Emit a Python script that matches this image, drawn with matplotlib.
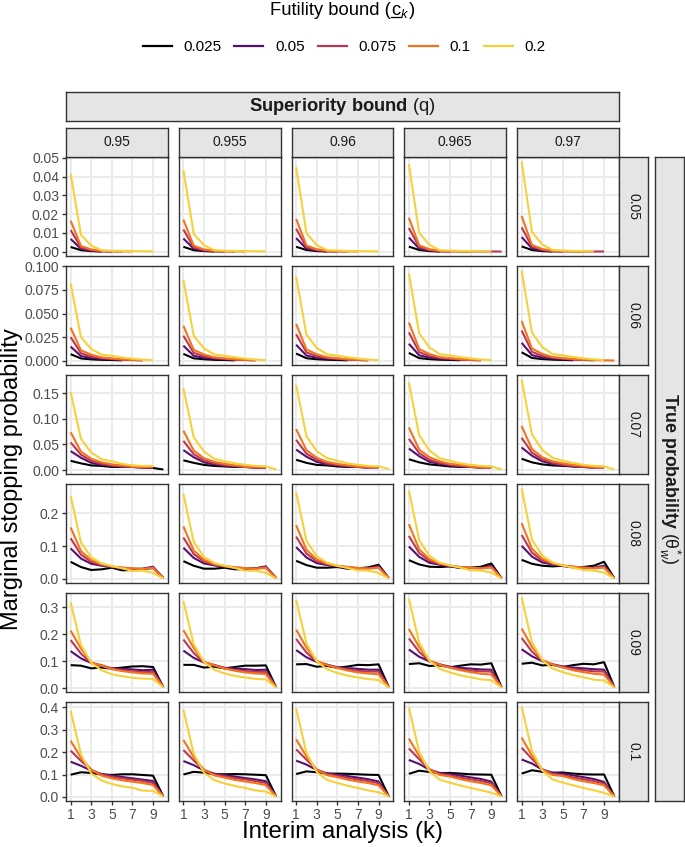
import numpy as np
import matplotlib
matplotlib.use("Agg")
import matplotlib.pyplot as plt
from matplotlib.lines import Line2D

N = np.nan

k_values = [1, 2, 3, 4, 5, 6, 7, 8, 9, 10]
c_labels = ["0.025", "0.05", "0.075", "0.1", "0.2"]
q_labels = ["0.95", "0.955", "0.96", "0.965", "0.97"]
theta_labels = ["0.05", "0.06", "0.07", "0.08", "0.09", "0.1"]
x_ticks = [1, 3, 5, 7, 9]

# each row (theta): 5 panels (q = 0.95 ... 0.97), each panel: 5 series (c = 0.025 ... 0.2)
theta_005 = [
    [[0.0025, 0.0008, 0.0003, 0.0001, N, N, N, N, N, N],
     [0.0068, 0.0015, 0.0005, 0.0002, 0.0001, N, N, N, N, N],
     [0.0115, 0.0022, 0.0008, 0.0003, 0.0002, 0.0001, N, N, N, N],
     [0.0165, 0.0030, 0.0012, 0.0005, 0.0003, 0.0002, 0.0001, N, N, N],
     [0.0415, 0.0090, 0.0032, 0.0007, 0.0005, 0.0004, 0.0003, 0.0002, 0.0002, N]],
    [[0.0026, 0.0008, 0.0003, 0.0001, N, N, N, N, N, N],
     [0.0070, 0.0016, 0.0005, 0.0002, 0.0001, N, N, N, N, N],
     [0.0118, 0.0023, 0.0008, 0.0003, 0.0002, 0.0001, N, N, N, N],
     [0.0170, 0.0032, 0.0012, 0.0005, 0.0003, 0.0002, 0.0001, N, N, N],
     [0.0435, 0.0095, 0.0034, 0.0008, 0.0005, 0.0004, 0.0003, 0.0002, 0.0002, N]],
    [[0.0026, 0.0009, 0.0003, 0.0001, N, N, N, N, N, N],
     [0.0072, 0.0016, 0.0006, 0.0002, 0.0001, N, N, N, N, N],
     [0.0122, 0.0024, 0.0009, 0.0003, 0.0002, 0.0001, N, N, N, N],
     [0.0175, 0.0033, 0.0013, 0.0005, 0.0003, 0.0002, 0.0001, N, N, N],
     [0.0450, 0.0098, 0.0035, 0.0008, 0.0006, 0.0004, 0.0003, 0.0002, 0.0002, N]],
    [[0.0027, 0.0009, 0.0003, 0.0001, N, N, N, N, N, N],
     [0.0075, 0.0017, 0.0006, 0.0002, 0.0001, N, N, N, N, N],
     [0.0126, 0.0025, 0.0009, 0.0003, 0.0002, 0.0001, 0.0001, 0.0001, 0.0001, 0.0001],
     [0.0180, 0.0034, 0.0013, 0.0005, 0.0003, 0.0002, 0.0001, N, N, N],
     [0.0465, 0.0100, 0.0036, 0.0008, 0.0006, 0.0004, 0.0003, 0.0002, 0.0002, N]],
    [[0.0028, 0.0009, 0.0003, 0.0001, N, N, N, N, N, N],
     [0.0078, 0.0018, 0.0006, 0.0002, 0.0001, N, N, N, N, N],
     [0.0130, 0.0026, 0.0010, 0.0003, 0.0002, 0.0001, 0.0001, 0.0001, 0.0001, N],
     [0.0190, 0.0036, 0.0014, 0.0005, 0.0003, 0.0002, 0.0001, N, N, N],
     [0.0480, 0.0105, 0.0038, 0.0009, 0.0006, 0.0004, 0.0003, 0.0002, N, N]],
]

theta_006 = [
    [[0.0070, 0.0025, 0.0015, 0.0010, 0.0008, 0.0005, N, N, N, N],
     [0.0150, 0.0050, 0.0030, 0.0020, 0.0015, 0.0010, 0.0008, 0.0005, N, N],
     [0.0250, 0.0080, 0.0045, 0.0030, 0.0020, 0.0012, 0.0008, N, N, N],
     [0.0350, 0.0110, 0.0065, 0.0035, 0.0025, 0.0015, 0.0010, 0.0006, N, N],
     [0.0820, 0.0250, 0.0125, 0.0064, 0.0053, 0.0035, 0.0022, 0.0012, 0.0006, N]],
    [[0.0073, 0.0026, 0.0016, 0.0010, 0.0008, 0.0005, N, N, N, N],
     [0.0160, 0.0053, 0.0031, 0.0021, 0.0015, 0.0010, 0.0008, 0.0005, N, N],
     [0.0265, 0.0084, 0.0047, 0.0031, 0.0021, 0.0013, 0.0008, N, N, N],
     [0.0370, 0.0115, 0.0067, 0.0036, 0.0026, 0.0016, 0.0010, 0.0006, N, N],
     [0.0855, 0.0265, 0.0130, 0.0066, 0.0054, 0.0036, 0.0023, 0.0013, 0.0006, N]],
    [[0.0077, 0.0027, 0.0016, 0.0011, 0.0008, 0.0005, N, N, N, N],
     [0.0170, 0.0055, 0.0032, 0.0022, 0.0016, 0.0011, 0.0008, 0.0005, N, N],
     [0.0280, 0.0088, 0.0049, 0.0032, 0.0022, 0.0013, 0.0009, N, N, N],
     [0.0390, 0.0120, 0.0069, 0.0037, 0.0027, 0.0016, 0.0011, 0.0006, N, N],
     [0.0890, 0.0278, 0.0135, 0.0068, 0.0055, 0.0037, 0.0024, 0.0013, 0.0007, N]],
    [[0.0083, 0.0028, 0.0017, 0.0011, 0.0009, 0.0006, N, N, N, N],
     [0.0180, 0.0058, 0.0033, 0.0023, 0.0016, 0.0011, 0.0008, 0.0005, N, N],
     [0.0300, 0.0092, 0.0050, 0.0033, 0.0022, 0.0014, 0.0009, N, N, N],
     [0.0405, 0.0125, 0.0071, 0.0038, 0.0028, 0.0017, 0.0011, 0.0007, N, N],
     [0.0925, 0.0290, 0.0140, 0.0070, 0.0057, 0.0038, 0.0025, 0.0014, 0.0007, N]],
    [[0.0090, 0.0030, 0.0018, 0.0012, 0.0009, 0.0006, N, N, N, N],
     [0.0190, 0.0060, 0.0034, 0.0024, 0.0017, 0.0012, 0.0009, 0.0005, N, N],
     [0.0320, 0.0095, 0.0052, 0.0034, 0.0023, 0.0014, 0.0009, N, N, N],
     [0.0420, 0.0130, 0.0073, 0.0040, 0.0029, 0.0018, 0.0012, 0.0008, 0.0005, 0.0003],
     [0.0955, 0.0300, 0.0145, 0.0072, 0.0058, 0.0039, 0.0026, 0.0015, 0.0008, N]],
]

theta_007 = [
    [[0.018, 0.013, 0.009, 0.008, 0.006, 0.006, 0.006, 0.005, 0.004, 0.001],
     [0.037, 0.024, 0.014, 0.010, 0.008, 0.007, 0.006, 0.005, 0.005, N],
     [0.054, 0.030, 0.018, 0.012, 0.009, 0.007, 0.006, 0.005, 0.005, N],
     [0.074, 0.036, 0.022, 0.015, 0.011, 0.009, 0.007, 0.006, 0.006, N],
     [0.153, 0.061, 0.034, 0.021, 0.017, 0.012, 0.009, 0.008, 0.008, N]],
    [[0.019, 0.014, 0.010, 0.008, 0.007, 0.006, 0.006, 0.005, 0.005, N],
     [0.039, 0.025, 0.015, 0.011, 0.008, 0.007, 0.006, 0.005, 0.005, N],
     [0.057, 0.031, 0.019, 0.013, 0.010, 0.008, 0.006, 0.005, 0.005, N],
     [0.077, 0.038, 0.023, 0.016, 0.012, 0.009, 0.007, 0.006, 0.006, N],
     [0.160, 0.064, 0.036, 0.022, 0.017, 0.013, 0.010, 0.008, 0.007, 0.001]],
    [[0.020, 0.014, 0.010, 0.009, 0.007, 0.006, 0.006, 0.005, N, N],
     [0.040, 0.026, 0.016, 0.011, 0.009, 0.007, 0.006, 0.005, 0.005, N],
     [0.059, 0.032, 0.020, 0.013, 0.010, 0.008, 0.006, 0.005, 0.005, N],
     [0.080, 0.039, 0.024, 0.016, 0.012, 0.009, 0.007, 0.006, 0.006, N],
     [0.166, 0.066, 0.037, 0.023, 0.018, 0.013, 0.010, 0.008, 0.007, 0.002]],
    [[0.021, 0.015, 0.011, 0.009, 0.007, 0.006, 0.006, 0.005, N, N],
     [0.042, 0.027, 0.016, 0.012, 0.009, 0.007, 0.006, 0.005, 0.005, N],
     [0.061, 0.033, 0.020, 0.014, 0.010, 0.008, 0.006, 0.005, 0.005, N],
     [0.083, 0.040, 0.025, 0.017, 0.012, 0.010, 0.007, 0.006, 0.006, N],
     [0.171, 0.068, 0.038, 0.023, 0.018, 0.013, 0.010, 0.008, 0.007, 0.001]],
    [[0.022, 0.015, 0.011, 0.009, 0.008, 0.007, 0.006, 0.005, N, N],
     [0.044, 0.028, 0.017, 0.012, 0.009, 0.007, 0.006, 0.005, 0.005, N],
     [0.063, 0.034, 0.021, 0.014, 0.010, 0.008, 0.006, 0.005, 0.005, N],
     [0.086, 0.041, 0.025, 0.017, 0.013, 0.010, 0.008, 0.006, 0.006, N],
     [0.177, 0.070, 0.039, 0.024, 0.018, 0.014, 0.010, 0.008, 0.007, 0.001]],
]

theta_008 = [
    [[0.052, 0.036, 0.027, 0.029, 0.034, 0.026, 0.027, 0.030, 0.033, 0.002],
     [0.093, 0.062, 0.046, 0.040, 0.036, 0.032, 0.030, 0.031, 0.037, 0.002],
     [0.124, 0.074, 0.052, 0.042, 0.037, 0.034, 0.031, 0.030, 0.035, 0.002],
     [0.157, 0.085, 0.057, 0.045, 0.038, 0.034, 0.032, 0.030, 0.033, 0.002],
     [0.254, 0.111, 0.066, 0.047, 0.039, 0.032, 0.024, 0.025, 0.018, 0.001]],
    [[0.054, 0.040, 0.031, 0.031, 0.034, 0.029, 0.030, 0.032, 0.036, 0.002],
     [0.095, 0.064, 0.047, 0.041, 0.037, 0.033, 0.031, 0.032, 0.038, 0.002],
     [0.126, 0.076, 0.053, 0.043, 0.038, 0.035, 0.032, 0.031, 0.036, 0.002],
     [0.160, 0.087, 0.058, 0.046, 0.039, 0.035, 0.033, 0.031, 0.033, 0.002],
     [0.260, 0.113, 0.067, 0.048, 0.040, 0.033, 0.025, 0.025, 0.018, 0.001]],
    [[0.055, 0.042, 0.034, 0.034, 0.036, 0.031, 0.032, 0.035, 0.043, 0.002],
     [0.097, 0.065, 0.048, 0.042, 0.038, 0.034, 0.032, 0.033, 0.039, 0.002],
     [0.129, 0.077, 0.054, 0.044, 0.039, 0.036, 0.033, 0.032, 0.036, 0.002],
     [0.164, 0.089, 0.059, 0.047, 0.040, 0.036, 0.033, 0.031, 0.034, 0.002],
     [0.265, 0.116, 0.069, 0.049, 0.040, 0.033, 0.026, 0.025, 0.018, 0.001]],
    [[0.057, 0.044, 0.037, 0.036, 0.038, 0.033, 0.034, 0.037, 0.047, 0.002],
     [0.099, 0.067, 0.049, 0.043, 0.038, 0.035, 0.033, 0.033, 0.040, 0.002],
     [0.131, 0.079, 0.055, 0.045, 0.040, 0.036, 0.033, 0.032, 0.037, 0.002],
     [0.167, 0.090, 0.060, 0.047, 0.040, 0.036, 0.034, 0.032, 0.034, 0.002],
     [0.270, 0.118, 0.070, 0.049, 0.041, 0.034, 0.026, 0.025, 0.019, 0.001]],
    [[0.058, 0.046, 0.040, 0.038, 0.040, 0.035, 0.036, 0.040, 0.052, 0.002],
     [0.101, 0.068, 0.050, 0.044, 0.039, 0.036, 0.034, 0.034, 0.040, 0.002],
     [0.134, 0.080, 0.056, 0.046, 0.040, 0.037, 0.034, 0.033, 0.037, 0.002],
     [0.170, 0.092, 0.061, 0.048, 0.041, 0.037, 0.034, 0.032, 0.034, 0.002],
     [0.276, 0.120, 0.071, 0.050, 0.041, 0.034, 0.027, 0.025, 0.019, 0.001]],
]

theta_009 = [
    [[0.085, 0.083, 0.073, 0.076, 0.072, 0.076, 0.080, 0.081, 0.078, 0.003],
     [0.137, 0.110, 0.093, 0.082, 0.073, 0.071, 0.069, 0.066, 0.068, 0.003],
     [0.178, 0.128, 0.093, 0.085, 0.072, 0.066, 0.062, 0.059, 0.060, 0.003],
     [0.213, 0.147, 0.095, 0.083, 0.070, 0.063, 0.058, 0.054, 0.053, 0.003],
     [0.318, 0.160, 0.093, 0.066, 0.051, 0.044, 0.038, 0.035, 0.034, 0.002]],
    [[0.086, 0.086, 0.076, 0.079, 0.073, 0.078, 0.083, 0.083, 0.084, 0.003],
     [0.139, 0.112, 0.095, 0.084, 0.075, 0.072, 0.070, 0.067, 0.068, 0.003],
     [0.180, 0.130, 0.095, 0.086, 0.074, 0.067, 0.063, 0.060, 0.060, 0.003],
     [0.215, 0.149, 0.097, 0.084, 0.072, 0.064, 0.058, 0.054, 0.052, 0.003],
     [0.323, 0.163, 0.096, 0.068, 0.054, 0.045, 0.039, 0.034, 0.032, 0.002]],
    [[0.088, 0.089, 0.079, 0.082, 0.075, 0.080, 0.086, 0.085, 0.088, 0.003],
     [0.141, 0.114, 0.097, 0.086, 0.077, 0.074, 0.071, 0.068, 0.068, 0.003],
     [0.182, 0.132, 0.098, 0.087, 0.076, 0.069, 0.064, 0.061, 0.061, 0.003],
     [0.217, 0.150, 0.100, 0.085, 0.074, 0.065, 0.058, 0.054, 0.051, 0.003],
     [0.327, 0.166, 0.099, 0.070, 0.056, 0.046, 0.039, 0.033, 0.030, 0.002]],
    [[0.089, 0.092, 0.082, 0.084, 0.077, 0.083, 0.088, 0.087, 0.092, 0.003],
     [0.143, 0.116, 0.099, 0.087, 0.079, 0.075, 0.072, 0.069, 0.068, 0.003],
     [0.184, 0.134, 0.100, 0.088, 0.077, 0.070, 0.065, 0.062, 0.061, 0.003],
     [0.219, 0.152, 0.102, 0.086, 0.075, 0.066, 0.059, 0.053, 0.050, 0.003],
     [0.332, 0.168, 0.102, 0.071, 0.058, 0.047, 0.040, 0.032, 0.029, 0.002]],
    [[0.090, 0.094, 0.084, 0.086, 0.078, 0.085, 0.090, 0.088, 0.096, 0.003],
     [0.144, 0.118, 0.100, 0.088, 0.080, 0.076, 0.073, 0.070, 0.068, 0.003],
     [0.186, 0.135, 0.102, 0.088, 0.078, 0.071, 0.066, 0.062, 0.061, 0.003],
     [0.221, 0.153, 0.104, 0.087, 0.076, 0.066, 0.059, 0.053, 0.050, 0.003],
     [0.336, 0.170, 0.104, 0.072, 0.059, 0.048, 0.040, 0.031, 0.028, 0.002]],
]

theta_010 = [
    [[0.099, 0.110, 0.107, 0.100, 0.098, 0.101, 0.101, 0.098, 0.095, 0.002],
     [0.157, 0.139, 0.117, 0.102, 0.095, 0.089, 0.083, 0.077, 0.071, 0.002],
     [0.206, 0.161, 0.121, 0.100, 0.090, 0.083, 0.077, 0.071, 0.062, 0.002],
     [0.250, 0.176, 0.121, 0.095, 0.083, 0.074, 0.068, 0.062, 0.053, 0.002],
     [0.384, 0.190, 0.105, 0.073, 0.058, 0.047, 0.041, 0.028, 0.027, 0.002]],
    [[0.100, 0.112, 0.108, 0.102, 0.101, 0.102, 0.101, 0.099, 0.097, 0.002],
     [0.160, 0.142, 0.118, 0.104, 0.097, 0.091, 0.084, 0.078, 0.070, 0.002],
     [0.209, 0.163, 0.121, 0.101, 0.092, 0.084, 0.078, 0.071, 0.062, 0.002],
     [0.254, 0.178, 0.121, 0.096, 0.086, 0.076, 0.069, 0.062, 0.053, 0.002],
     [0.389, 0.193, 0.108, 0.075, 0.060, 0.049, 0.040, 0.029, 0.024, 0.002]],
    [[0.102, 0.114, 0.110, 0.104, 0.104, 0.103, 0.101, 0.099, 0.098, 0.002],
     [0.162, 0.144, 0.120, 0.105, 0.099, 0.093, 0.086, 0.079, 0.069, 0.002],
     [0.212, 0.166, 0.122, 0.102, 0.094, 0.085, 0.078, 0.071, 0.061, 0.002],
     [0.257, 0.181, 0.122, 0.097, 0.088, 0.077, 0.069, 0.062, 0.052, 0.002],
     [0.394, 0.197, 0.111, 0.076, 0.062, 0.050, 0.040, 0.029, 0.021, 0.002]],
    [[0.103, 0.117, 0.111, 0.106, 0.107, 0.104, 0.101, 0.100, 0.099, 0.002],
     [0.165, 0.147, 0.121, 0.107, 0.102, 0.095, 0.087, 0.080, 0.068, 0.002],
     [0.216, 0.168, 0.123, 0.103, 0.096, 0.086, 0.079, 0.071, 0.061, 0.002],
     [0.260, 0.183, 0.122, 0.098, 0.091, 0.079, 0.070, 0.062, 0.052, 0.002],
     [0.398, 0.201, 0.114, 0.077, 0.063, 0.051, 0.040, 0.030, 0.019, 0.002]],
    [[0.104, 0.119, 0.112, 0.108, 0.109, 0.104, 0.101, 0.100, 0.100, 0.002],
     [0.167, 0.149, 0.122, 0.108, 0.104, 0.096, 0.088, 0.080, 0.067, 0.002],
     [0.219, 0.170, 0.123, 0.103, 0.097, 0.087, 0.079, 0.071, 0.060, 0.002],
     [0.264, 0.185, 0.122, 0.098, 0.093, 0.080, 0.070, 0.062, 0.052, 0.002],
     [0.403, 0.205, 0.118, 0.078, 0.064, 0.052, 0.040, 0.030, 0.018, 0.002]],
]

rows_data = [theta_005, theta_006, theta_007, theta_008, theta_009, theta_010]

y_ticks = [
    [0, 0.01, 0.02, 0.03, 0.04, 0.05],
    [0, 0.025, 0.05, 0.075, 0.1],
    [0, 0.05, 0.10, 0.15],
    [0, 0.1, 0.2],
    [0, 0.1, 0.2, 0.3],
    [0, 0.1, 0.2, 0.3, 0.4],
]
y_ticklabels = [
    ["0.00", "0.01", "0.02", "0.03", "0.04", "0.05"],
    ["0.000", "0.025", "0.050", "0.075", "0.100"],
    ["0.00", "0.05", "0.10", "0.15"],
    ["0.0", "0.1", "0.2"],
    ["0.0", "0.1", "0.2", "0.3"],
    ["0.0", "0.1", "0.2", "0.3", "0.4"],
]

colors = ["#000004", "#56106E", "#BB3754", "#F4731C", "#F6D13A"]

plt.rcParams.update({
    "font.family": ["Liberation Sans", "DejaVu Sans"],
    "mathtext.fontset": "custom",
    "mathtext.rm": "Liberation Sans",
    "mathtext.it": "Liberation Sans:italic",
    "mathtext.bf": "Liberation Sans:bold",
})

W, H = 685, 847
fig = plt.figure(figsize=(W / 100, H / 100), dpi=100)


def rect(x, y, w, h):
    return [x / W, 1 - (y + h) / H, w / W, h / H]


col_left = [66, 178.75, 291.5, 404.25, 517]
pw = 102
row_top = [157, 266, 375, 484, 593, 702]
ph = 99

strip_fc = "#E5E5E5"
edge = "#333333"
tick_col = "#4D4D4D"


def strip(x, y, w, h, text, rot=0, size=10, **kw):
    a = fig.add_axes(rect(x, y, w, h))
    a.set_facecolor(strip_fc)
    a.set_xticks([])
    a.set_yticks([])
    for s in a.spines.values():
        s.set_color(edge)
        s.set_linewidth(1.0)
    a.text(0.5, 0.5, text, rotation=rot, ha="center", va="center",
           fontsize=size, color="#1A1A1A", transform=a.transAxes, **kw)
    return a


for r, rowd in enumerate(rows_data):
    allv = np.array(rowd, dtype=float)
    lo, hi = np.nanmin(allv), np.nanmax(allv)
    pad = 0.05 * (hi - lo)
    for c, panel in enumerate(rowd):
        ax = fig.add_axes(rect(col_left[c], row_top[r], pw, ph))
        ax.set_facecolor("white")
        for i, series in enumerate(panel):
            ax.plot(k_values, series, color=colors[i], lw=1.5, solid_capstyle="butt", zorder=3)
        ax.set_xlim(0.55, 10.45)
        ax.set_ylim(lo - pad, hi + pad)
        ax.set_xticks(x_ticks)
        ax.set_yticks(y_ticks[r])
        ax.grid(True, color="#EBEBEB", lw=1.4, zorder=0)
        ax.set_axisbelow(True)
        for s in ax.spines.values():
            s.set_color(edge)
            s.set_linewidth(1.0)
        ax.tick_params(colors=edge, length=3, width=1.0, labelcolor=tick_col, labelsize=10, pad=2)
        if c == 0:
            ax.set_yticklabels(y_ticklabels[r])
        else:
            ax.tick_params(axis="y", length=0, labelleft=False)
        if r == len(rows_data) - 1:
            ax.set_xticklabels([str(v) for v in x_ticks])
        else:
            ax.tick_params(axis="x", length=0, labelbottom=False)

# column strips
for c, ql in enumerate(q_labels):
    strip(col_left[c], 128, pw, 29, ql)
# superiority strip
strip(66, 92, 553, 29, r"$\mathbf{Superiority\ bound}\ (\mathrm{q})$", size=13.2)
# row strips
for r, tl in enumerate(theta_labels):
    strip(619, row_top[r], 29, ph, tl, rot=-90)
# outer strip
strip(655, 157, 29, 644, r"$\mathbf{True\ probability}\ (\mathrm{\theta}_{w}^{*})$", rot=-90, size=12.8)

# axis titles
fig.text(12 / W, 1 - 479 / H, "Marginal stopping probability", rotation=90,
         ha="center", va="center", fontsize=17, color="black")
fig.text(342.5 / W, 1 - 832 / H, "Interim analysis (k)", ha="center", va="center",
         fontsize=17.3, color="black")

# legend title: "Futility bound (c_k)" with underlined c
renderer = fig.canvas.get_renderer()
tsize = 13.2
ty = 1 - 15 / H
parts = ["Futility bound (", r"$\mathrm{c}_{k}$", ")"]
widths = []
for p in parts:
    t = fig.text(0, 0, p, fontsize=tsize)
    widths.append(t.get_window_extent(renderer).width)
    t.remove()
tc = fig.text(0, 0, r"$\mathrm{c}$", fontsize=tsize)
wc = tc.get_window_extent(renderer).width
tc.remove()
x0 = 342.5 - sum(widths) / 2
xs = [x0, x0 + widths[0], x0 + widths[0] + widths[1]]
for p, xp in zip(parts, xs):
    fig.text(xp / W, ty, p, fontsize=tsize, ha="left", va="baseline")
fig.add_artist(Line2D([xs[1] / W + 0.6 / W, (xs[1] + wc) / W - 0.6 / W],
                      [ty - 2.5 / H, ty - 2.5 / H], color="black", lw=0.9,
                      transform=fig.transFigure))

handles = [Line2D([0], [0], color=col, lw=1.6) for col in colors]
fig.legend(handles, c_labels, loc="center", bbox_to_anchor=(344 / W, 1 - 47 / H),
           ncol=5, frameon=False, fontsize=11, handlelength=1.9, handletextpad=0.75,
           columnspacing=0.85)

fig.savefig("out.png", dpi=100)
